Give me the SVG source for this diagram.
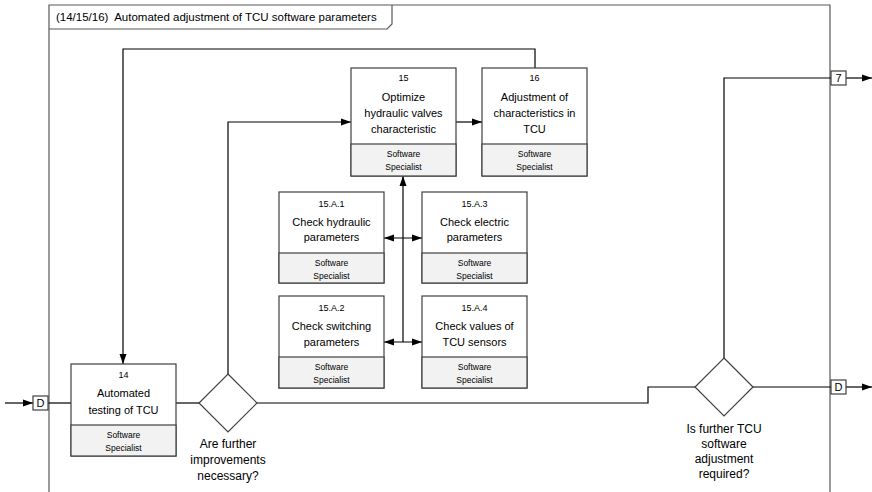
<svg xmlns="http://www.w3.org/2000/svg" width="872" height="492" viewBox="0 0 872 492">
<defs>
<marker id="ah" markerWidth="10" markerHeight="8" refX="10" refY="4" orient="auto" markerUnits="userSpaceOnUse">
<path d="M0,0.5 L10,4 L0,7.5 z" fill="#000"/>
</marker>
<marker id="as" markerWidth="10" markerHeight="8" refX="0" refY="4" orient="auto" markerUnits="userSpaceOnUse">
<path d="M10,0.5 L0,4 L10,7.5 z" fill="#000"/>
</marker>
</defs>
<style>
text{font-family:"Liberation Sans",Arial,sans-serif;fill:#000;text-anchor:middle}
.box{fill:#fff;stroke:#404040;stroke-width:1.2}
.lane{fill:#f2f2f2;stroke:#404040;stroke-width:1.2}
.num{font-size:9px}
.t{font-size:11px}
.r{font-size:8.5px}
.q{font-size:12px}
.c{fill:none;stroke:#000;stroke-width:1.2}
.frame{fill:none;stroke:#595959;stroke-width:1.2}
.port{fill:#fff;stroke:#404040;stroke-width:1.2}
.pt{font-size:11px}
</style>
<rect width="872" height="492" fill="#fff"/>
<g id="frame">
<path class="frame" d="M49,492 V5 H830 V492"/>
<path class="frame" d="M49,29 H387 L392,24 V5"/>
<text x="56" y="21" xml:space="preserve" style="text-anchor:start;font-size:11.5px">(14/15/16)  Automated adjustment of TCU software parameters</text>
</g>
<g id="connectors">
<path class="c" d="M5,403 H33" marker-end="url(#ah)"/>
<path class="c" d="M48,403 H71"/>
<path class="c" d="M176,403 H199"/>
<path class="c" d="M257,403 H648 V387 H695"/>
<path class="c" d="M753,387 H831"/>
<path class="c" d="M846,387 H872" marker-end="url(#ah)"/>
<path class="c" d="M724,358 V78 H831"/>
<path class="c" d="M846,78 H872" marker-end="url(#ah)"/>
<path class="c" d="M228,374 V122 H351" marker-end="url(#ah)"/>
<path class="c" d="M456,122 H482" marker-end="url(#ah)"/>
<path class="c" d="M535,68 V49 H123 V364" marker-end="url(#ah)"/>
<path class="c" d="M403,342 V176" marker-end="url(#ah)"/>
<path class="c" d="M384,238 H422" marker-start="url(#as)" marker-end="url(#ah)"/>
<path class="c" d="M384,342 H422" marker-start="url(#as)" marker-end="url(#ah)"/>
</g>
<g id="portD-in">
<rect class="port" x="33" y="396" width="15" height="14"/>
<text class="pt" x="40.5" y="407">D</text>
</g>
<g id="portD-out">
<rect class="port" x="831" y="380" width="15" height="14"/>
<text class="pt" x="838.5" y="391">D</text>
</g>
<g id="port7">
<rect class="port" x="831" y="71" width="15" height="14"/>
<text class="pt" x="838.5" y="82">7</text>
</g>
<g id="n14">
<rect class="box" x="71" y="364" width="105" height="92"/>
<rect class="lane" x="71" y="425" width="105" height="31"/>
<text class="num" x="123.5" y="378">14</text>
<text class="t" x="123.5" y="397">Automated</text>
<text class="t" x="123.5" y="414">testing of TCU</text>
<text class="r" x="123.5" y="438">Software</text>
<text class="r" x="123.5" y="451">Specialist</text>
</g>
<g id="d1">
<path class="box" d="M228,374 L257,403 L228,432 L199,403 z"/>
<text class="q" x="228" y="448">Are further</text>
<text class="q" x="228" y="464">improvements</text>
<text class="q" x="228" y="480">necessary?</text>
</g>
<g id="n15">
<rect class="box" x="351" y="68" width="105" height="108"/>
<rect class="lane" x="351" y="144" width="105" height="32"/>
<text class="num" x="403.5" y="81">15</text>
<text class="t" x="403.5" y="101">Optimize</text>
<text class="t" x="403.5" y="117">hydraulic valves</text>
<text class="t" x="403.5" y="133">characteristic</text>
<text class="r" x="403.5" y="157">Software</text>
<text class="r" x="403.5" y="170">Specialist</text>
</g>
<g id="n16">
<rect class="box" x="482" y="68" width="105" height="108"/>
<rect class="lane" x="482" y="144" width="105" height="32"/>
<text class="num" x="534.5" y="81">16</text>
<text class="t" x="534.5" y="101">Adjustment of</text>
<text class="t" x="534.5" y="117">characteristics in</text>
<text class="t" x="534.5" y="133">TCU</text>
<text class="r" x="534.5" y="157">Software</text>
<text class="r" x="534.5" y="170">Specialist</text>
</g>
<g id="n15A1">
<rect class="box" x="279" y="192" width="105" height="91"/>
<rect class="lane" x="279" y="253" width="105" height="30"/>
<text class="num" x="331.5" y="207">15.A.1</text>
<text class="t" x="331.5" y="226">Check hydraulic</text>
<text class="t" x="331.5" y="241">parameters</text>
<text class="r" x="331.5" y="266">Software</text>
<text class="r" x="331.5" y="279">Specialist</text>
</g>
<g id="n15A3">
<rect class="box" x="422" y="192" width="105" height="91"/>
<rect class="lane" x="422" y="253" width="105" height="30"/>
<text class="num" x="474.5" y="207">15.A.3</text>
<text class="t" x="474.5" y="226">Check electric</text>
<text class="t" x="474.5" y="241">parameters</text>
<text class="r" x="474.5" y="266">Software</text>
<text class="r" x="474.5" y="279">Specialist</text>
</g>
<g id="n15A2">
<rect class="box" x="279" y="296" width="105" height="92"/>
<rect class="lane" x="279" y="357" width="105" height="31"/>
<text class="num" x="331.5" y="311">15.A.2</text>
<text class="t" x="331.5" y="330">Check switching</text>
<text class="t" x="331.5" y="346">parameters</text>
<text class="r" x="331.5" y="370">Software</text>
<text class="r" x="331.5" y="383">Specialist</text>
</g>
<g id="n15A4">
<rect class="box" x="422" y="296" width="105" height="92"/>
<rect class="lane" x="422" y="357" width="105" height="31"/>
<text class="num" x="474.5" y="311">15.A.4</text>
<text class="t" x="474.5" y="330">Check values of</text>
<text class="t" x="474.5" y="346">TCU sensors</text>
<text class="r" x="474.5" y="370">Software</text>
<text class="r" x="474.5" y="383">Specialist</text>
</g>
<g id="d2">
<path class="box" d="M724,358 L753,387 L724,416 L695,387 z"/>
<text class="q" x="724" y="433">Is further TCU</text>
<text class="q" x="724" y="448">software</text>
<text class="q" x="724" y="463">adjustment</text>
<text class="q" x="724" y="478">required?</text>
</g>
</svg>
